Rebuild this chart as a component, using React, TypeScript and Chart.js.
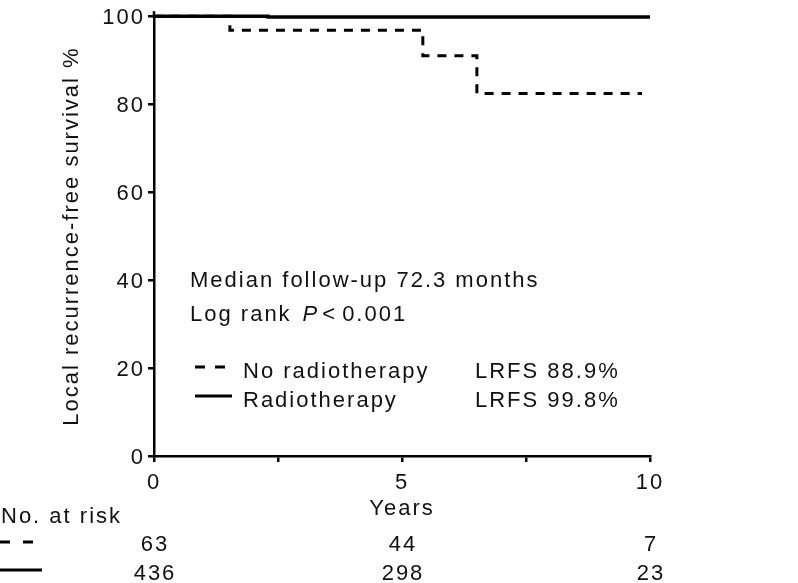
import React, { useEffect, useRef } from 'react';
import { Chart, registerables } from 'chart.js';

Chart.register(...registerables);

// ---- Data ----
const noRtYears = [0, 1.53, 5.42, 6.51, 9.84];
const noRtSurvival = [100, 96.8, 91.0, 82.4, 82.4];
const rtYears = [0, 2.3, 10];
const rtSurvival = [100, 99.8, 99.8];

const xLabelledYears = [0, 5, 10];
const riskYears = [0, 5, 10];
const riskNoRt = [63, 44, 7];
const riskRt = [436, 298, 23];

const seriesNames = ['No radiotherapy', 'Radiotherapy'];
const lrfsTexts = ['LRFS 88.9%', 'LRFS 99.8%'];
const medianText = 'Median follow-up 72.3 months';
const yTitle = 'Local recurrence-free survival %';
const xTitle = 'Years';
const riskTitle = 'No. at risk';

const FONT = '"Liberation Sans", Arial, Helvetica, sans-serif';
const TEXT = '#111111';
const INK = '#000000';
const SPACING = '2px';

const spacingPlugin = {
  id: 'letterSpacingPlugin',
  beforeUpdate(chart: any) {
    chart.ctx.letterSpacing = SPACING;
  },
  beforeLayout(chart: any) {
    chart.ctx.letterSpacing = SPACING;
  },
  beforeDraw(chart: any) {
    chart.ctx.letterSpacing = SPACING;
  },
};

const annotationPlugin = {
  id: 'kmAnnotations',
  afterDraw(chart: any) {
    const ctx = chart.ctx as CanvasRenderingContext2D;
    const area = chart.chartArea;
    const xs = chart.scales.x;
    ctx.save();
    (ctx as any).letterSpacing = SPACING;
    ctx.fillStyle = TEXT;
    ctx.strokeStyle = INK;
    ctx.textAlign = 'left';
    ctx.textBaseline = 'alphabetic';
    const normal = `22px ${FONT}`;
    const italic = `italic 22px ${FONT}`;
    ctx.font = normal;

    // small extension of the y axis line above the top tick
    ctx.lineWidth = 2.5;
    ctx.beginPath();
    ctx.moveTo(area.left, area.top - 5);
    ctx.lineTo(area.left, area.top);
    ctx.stroke();

    const x0 = area.left + 36;
    ctx.fillText(medianText, x0, 287);

    // Log rank P < 0.001
    ctx.fillText('Log rank', x0, 321);
    let x = x0 + ctx.measureText('Log rank').width + 11;
    ctx.font = italic;
    ctx.fillText('P', x, 321);
    x += ctx.measureText('P').width + 3;
    ctx.font = normal;
    ctx.fillText('<', x, 321);
    x += ctx.measureText('<').width + 5;
    ctx.fillText('0.001', x, 321);

    // legend
    ctx.lineWidth = 3;
    ctx.lineCap = 'butt';
    ctx.setLineDash([10, 10]);
    ctx.beginPath();
    ctx.moveTo(x0 + 5, 367);
    ctx.lineTo(x0 + 35, 367);
    ctx.stroke();
    ctx.setLineDash([]);
    ctx.beginPath();
    ctx.moveTo(x0 + 5, 396);
    ctx.lineTo(x0 + 42, 396);
    ctx.stroke();
    ctx.fillText(seriesNames[0], x0 + 53, 378);
    ctx.fillText(seriesNames[1], x0 + 53, 407);
    ctx.fillText(lrfsTexts[0], x0 + 285, 378);
    ctx.fillText(lrfsTexts[1], x0 + 285, 407);

    // risk table
    ctx.fillText(riskTitle, 1, 523);
    ctx.setLineDash([10, 13]);
    ctx.beginPath();
    ctx.moveTo(0, 542);
    ctx.lineTo(33, 542);
    ctx.stroke();
    ctx.setLineDash([]);
    ctx.beginPath();
    ctx.moveTo(0, 570);
    ctx.lineTo(42, 570);
    ctx.stroke();

    ctx.textAlign = 'center';
    riskYears.forEach((t, i) => {
      const px = xs.getPixelForValue(t) + 1;
      ctx.fillText(String(riskNoRt[i]), px, 551);
      ctx.fillText(String(riskRt[i]), px, 580);
    });
    ctx.restore();
  },
};

export default function App() {
  const ref = useRef<HTMLCanvasElement | null>(null);

  useEffect(() => {
    if (!ref.current) return;
    const axisFont = { family: FONT, size: 22 };
    const chart = new Chart(ref.current, {
      type: 'line',
      data: {
        datasets: [
          {
            label: seriesNames[0],
            data: noRtYears.map((t, i) => ({ x: t, y: noRtSurvival[i] })),
            borderColor: INK,
            borderWidth: 3,
            borderDash: [9, 8],
            stepped: true,
            pointRadius: 0,
            fill: false,
            clip: false as any,
          },
          {
            label: seriesNames[1],
            data: rtYears.map((t, i) => ({ x: t, y: rtSurvival[i] })),
            borderColor: INK,
            borderWidth: 3.5,
            stepped: true,
            pointRadius: 0,
            fill: false,
            clip: false as any,
          },
        ],
      },
      options: {
        responsive: false,
        animation: false,
        events: [],
        layout: { padding: { left: 0, top: 13, right: 148, bottom: 57 } },
        plugins: {
          legend: { display: false },
          tooltip: { enabled: false },
          title: { display: false },
        },
        scales: {
          x: {
            type: 'linear',
            position: 'bottom',
            min: 0,
            max: 10,
            border: { display: true, color: INK, width: 2.5 },
            grid: {
              display: true,
              drawOnChartArea: false,
              drawTicks: true,
              tickLength: 6,
              color: INK,
              lineWidth: 2.5,
            },
            ticks: {
              stepSize: 2.5,
              autoSkip: false,
              maxRotation: 0,
              padding: 8,
              color: TEXT,
              font: axisFont,
              callback: (v: any) => (xLabelledYears.includes(Number(v)) ? String(v) : ''),
            },
            title: {
              display: true,
              text: xTitle,
              color: TEXT,
              font: axisFont,
              padding: { top: 0, bottom: 4 },
            },
            afterFit: (s: any) => {
              s.height = 70;
            },
          },
          y: {
            type: 'linear',
            min: 0,
            max: 100,
            border: { display: true, color: INK, width: 2.5 },
            grid: {
              display: true,
              drawOnChartArea: false,
              drawTicks: true,
              tickLength: 6,
              color: INK,
              lineWidth: 2.5,
            },
            ticks: {
              stepSize: 20,
              padding: 3,
              labelOffset: 2,
              color: TEXT,
              font: axisFont,
            },
            title: {
              display: true,
              text: yTitle,
              color: TEXT,
              font: axisFont,
              padding: { top: 59, bottom: 0 },
            },
            afterFit: (s: any) => {
              s.width = 154;
            },
          },
        },
      } as any,
      plugins: [spacingPlugin, annotationPlugin],
    });
    return () => chart.destroy();
  }, []);

  return (
    <div
      style={{
        position: 'fixed',
        left: 0,
        top: 0,
        width: 798,
        height: 583,
        background: '#ffffff',
      }}
    >
      <canvas
        ref={ref}
        width={798}
        height={583}
        style={{ display: 'block', width: 798, height: 583 }}
      />
    </div>
  );
}
